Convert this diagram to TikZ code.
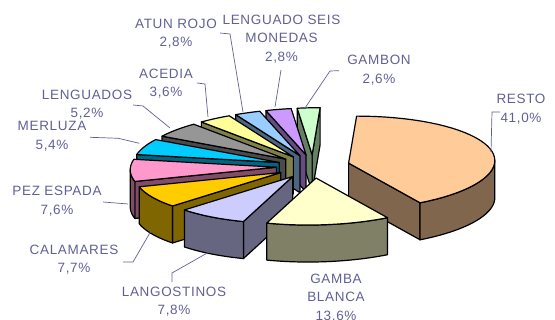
\documentclass[tikz,border=0pt]{standalone}
\usepackage{fontspec}
\newfontfamily\lblfont{Liberation Sans}[LetterSpace=5]
\definecolor{lblc}{RGB}{96,96,150}
\definecolor{restoT}{HTML}{FFCC99}\definecolor{restoS}{HTML}{80664C}
\definecolor{gambaT}{HTML}{FFFFCC}\definecolor{gambaS}{HTML}{808066}
\definecolor{langT}{HTML}{CCCCFF}\definecolor{langS}{HTML}{666680}
\definecolor{calT}{HTML}{FFCC00}\definecolor{calS}{HTML}{806600}
\definecolor{pezT}{HTML}{FF99CC}\definecolor{pezS}{HTML}{804C66}
\definecolor{merT}{HTML}{00CCFF}\definecolor{merS}{HTML}{006680}
\definecolor{lengT}{HTML}{969696}\definecolor{lengS}{HTML}{4B4B4B}
\definecolor{aceT}{HTML}{FFFF99}\definecolor{aceS}{HTML}{80804C}
\definecolor{atunT}{HTML}{99CCFF}\definecolor{atunS}{HTML}{4C6680}
\definecolor{lsmT}{HTML}{CC99FF}\definecolor{lsmS}{HTML}{664C80}
\definecolor{gbnT}{HTML}{CCFFCC}\definecolor{gbnS}{HTML}{668066}
\newcommand\pieRface[2]{\filldraw[edge, fill=#2] (0,0,0) -- ({cos(#1)},{sin(#1)},0) -- ({cos(#1)},{sin(#1)},-1) -- (0,0,-1) -- cycle;}
\newcommand\pieWall[3]{\filldraw[edge, fill=#3] plot[domain=#1:#2, samples=40] ({cos(\x)},{sin(\x)},0) -- plot[domain=#2:#1, samples=40] ({cos(\x)},{sin(\x)},-1) -- cycle;}
\newcommand\pieTop[3]{\filldraw[edge, fill=#3] (0,0,0) -- plot[domain=#1:#2, samples=40] ({cos(\x)},{sin(\x)},0) -- cycle;}
\begin{document}
\begin{tikzpicture}[x=1pt,y=-1pt,
  edge/.style={draw=black, line width=1.2pt, line join=round},
  lbl/.style={text=lblc, font=\lblfont\fontsize{13.5}{18.5}\selectfont, align=center, inner sep=0pt},
  leader/.style={draw=lblc, line width=0.7pt}]
\useasboundingbox (0,0) rectangle (555,320);
\begin{scope}[shift={(313pt,-166.4pt)}, x={(146pt,0pt)}, y={(8pt,47pt)}, z={(0pt,37pt)}]
  % GAMBON
  \begin{scope}[shift={(94.5:0.25)}]
    \pieRface{90}{gbnS}\pieRface{99}{gbnS}\pieTop{90}{99}{gbnT}
  \end{scope}
  % LENGUADO SEIS MONEDAS
  \begin{scope}[shift={(104.04:0.25)}]
    \pieRface{109.08}{lsmS}\pieTop{99}{109.08}{lsmT}
  \end{scope}
  % ATUN ROJO
  \begin{scope}[shift={(114.12:0.25)}]
    \pieRface{119.16}{atunS}\pieTop{109.08}{119.16}{atunT}
  \end{scope}
  % ACEDIA
  \begin{scope}[shift={(125.64:0.25)}]
    \pieRface{132.12}{aceS}\pieTop{119.16}{132.12}{aceT}
  \end{scope}
  % LENGUADOS
  \begin{scope}[shift={(141.48:0.25)}]
    \pieRface{150.84}{lengS}\pieTop{132.12}{150.84}{lengT}
  \end{scope}
  % MERLUZA
  \begin{scope}[shift={(160.56:0.25)}]
    \pieRface{170.28}{merS}\pieTop{150.84}{170.28}{merT}
  \end{scope}
  % RESTO
  \begin{scope}[shift={(16.2:0.25)}]
    \pieRface{-57.6}{restoS}\pieWall{-57.6}{3.1}{restoS}\pieTop{-57.6}{90}{restoT}
  \end{scope}
  % PEZ ESPADA
  \begin{scope}[shift={(184:0.25)}]
    \pieRface{197.64}{pezS}\pieWall{183.1}{197.64}{pezS}\pieTop{170.28}{197.64}{pezT}
  \end{scope}
  % CALAMARES
  \begin{scope}[shift={(-148.5:0.25)}]
    \pieRface{-134.64}{calS}\pieWall{-162.36}{-134.64}{calS}\pieTop{-162.36}{-134.64}{calT}
  \end{scope}
  % LANGOSTINOS
  \begin{scope}[shift={(-120.6:0.25)}]
    \pieRface{-106.56}{langS}\pieWall{-134.64}{-106.56}{langS}\pieTop{-134.64}{-106.56}{langT}
  \end{scope}
  % GAMBA BLANCA
  \begin{scope}[shift={(-82.08:0.25)}]
    \pieWall{-106.56}{-57.6}{gambaS}\pieTop{-106.56}{-57.6}{gambaT}
  \end{scope}
\end{scope}
% labels
\node[lbl] (resto) at (521,109) {RESTO\\41,0\%};
\node[lbl] (gamba) at (336,298) {GAMBA\\BLANCA\\13,6\%};
\node[lbl] (lang) at (174,301.5) {LANGOSTINOS\\7,8\%};
\node[lbl] (cal) at (74,259.5) {CALAMARES\\7,7\%};
\node[lbl] (pez) at (57,201) {PEZ ESPADA\\7,6\%};
\node[lbl] (mer) at (52,136) {MERLUZA\\5,4\%};
\node[lbl] (leng) at (87,104.5) {LENGUADOS\\5,2\%};
\node[lbl] (ace) at (166,83.5) {ACEDIA\\3,6\%};
\node[lbl] (atun) at (176,33.5) {ATUN ROJO\\2,8\%};
\node[lbl] (lsm) at (281.5,39) {LENGUADO SEIS\\MONEDAS\\2,8\%};
\node[lbl] (gbn) at (379,70) {GAMBON\\2,6\%};
% leaders
\coordinate (rA) at (491,152); \coordinate (rB) at (492,112); \coordinate (rC) at (500,112);
\draw[leader] (rA) -- (rB) -- (rC);
\coordinate (lA) at (209,252); \coordinate (lB) at (172,273); \coordinate (lC) at (172,282);
\draw[leader] (lA) -- (lB) -- (lC);
\coordinate (cA) at (151,231); \coordinate (cB) at (133,262); \coordinate (cC) at (123,262);
\draw[leader] (cA) -- (cB) -- (cC);
\coordinate (pA) at (103,202); \coordinate (pB) at (128,204);
\draw[leader] (pA) -- (pB);
\coordinate (mA) at (90,137.3); \coordinate (mB) at (118.3,138.3); \coordinate (mC) at (139.3,143.3);
\draw[leader] (mA) -- (mB) -- (mC);
\coordinate (gA) at (133,105); \coordinate (gB) at (143,106); \coordinate (gC) at (170,128);
\draw[leader] (gA) -- (gB) -- (gC);
\coordinate (aA) at (197,83); \coordinate (aB) at (205,84); \coordinate (aC) at (208,117);
\draw[leader] (aA) -- (aB) -- (aC);
\coordinate (tA) at (220,33); \coordinate (tB) at (230,34); \coordinate (tC) at (243,112);
\draw[leader] (tA) -- (tB) -- (tC);
\coordinate (sA) at (281,70); \coordinate (sB) at (275,107);
\draw[leader] (sA) -- (sB);
\coordinate (bA) at (339,70.7); \coordinate (bB) at (330,71); \coordinate (bC) at (305,108);
\draw[leader] (bA) -- (bB) -- (bC);
\end{tikzpicture}
\end{document}
